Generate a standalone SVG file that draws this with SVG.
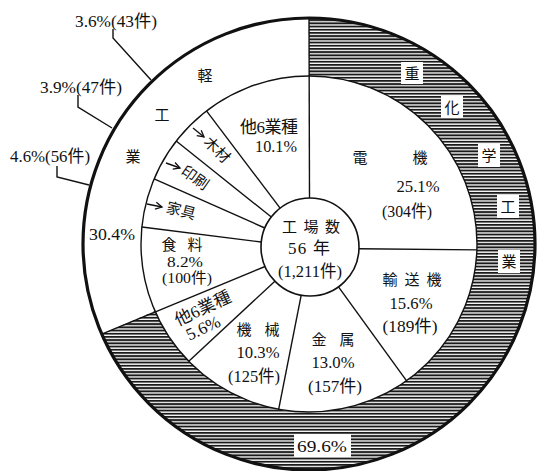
<svg xmlns="http://www.w3.org/2000/svg" width="537" height="471" viewBox="0 0 537 471">
<style>
.t{font-family:"Liberation Serif","Noto Sans CJK JP",serif;font-size:17px;fill:#111;text-anchor:middle}
.s{font-size:14.5px}
.k{font-family:"Noto Sans CJK JP",sans-serif;font-size:15px;fill:#111;text-anchor:middle}
.ln{fill:none;stroke:#111;stroke-width:1.4}
.bx{fill:#fff}
</style>
<defs>
<pattern id="h" patternUnits="userSpaceOnUse" width="8" height="3.2"><rect width="8" height="3.2" fill="#fff"/><rect width="8" height="1.9" fill="#1a1a1a"/></pattern>
<marker id="a" markerUnits="userSpaceOnUse" markerWidth="10" markerHeight="10" refX="8" refY="5" orient="auto"><path d="M1.5,1.5 L8,5 L1.5,8.5" fill="none" stroke="#111" stroke-width="1.3"/></marker>
</defs>
<rect width="537" height="471" fill="#fff"/>
<g id="heavy-ring">
<path d="M309,18 A226,226 0 1 1 101.7,334.1 L154.9,311 A168,168 0 1 0 309,76 Z" fill="url(#h)"/>
<rect class="bx" x="401" y="62" width="22" height="22"/><text class="k" x="412" y="79">重</text>
<rect class="bx" x="441" y="96" width="22" height="22"/><text class="k" x="452" y="113">化</text>
<rect class="bx" x="478" y="144" width="22" height="23"/><text class="k" x="489" y="161">学</text>
<rect class="bx" x="497" y="195" width="22" height="23"/><text class="k" x="508" y="212">工</text>
<rect class="bx" x="498" y="250" width="22" height="23"/><text class="k" x="509" y="267">業</text>
<rect class="bx" x="294" y="434" width="57" height="23"/><text class="t" x="322" y="452" textLength="50" lengthAdjust="spacingAndGlyphs">69.6%</text>
</g>
<g id="light-ring">
<text class="k" x="205" y="81">軽</text>
<text class="k" x="162" y="120">工</text>
<text class="k" x="133" y="162">業</text>
<text class="t" x="112" y="240" textLength="46" lengthAdjust="spacingAndGlyphs">30.4%</text>
</g>
<g id="rings">
<circle cx="309" cy="244" r="168" class="ln"/>
<circle cx="309" cy="244" r="226" fill="none" stroke="#111" stroke-width="3.2"/>
<line x1="309" y1="18" x2="309.5" y2="198" class="ln"/>
<line x1="101.7" y1="334.1" x2="265.1" y2="266.5" class="ln"/>
</g>
<g id="spokes">
<line x1="359" y1="248.7" x2="476.9" y2="249.9" class="ln"/>
<line x1="338.5" y1="286.9" x2="406.6" y2="380.8" class="ln"/>
<line x1="301.2" y1="295.2" x2="278.7" y2="409.2" class="ln"/>
<line x1="274.9" y1="281.2" x2="188.8" y2="361.3" class="ln"/>
<line x1="261.3" y1="242" x2="141.9" y2="227" class="ln"/>
<line x1="264.8" y1="228" x2="154.1" y2="178.9" class="ln"/>
<line x1="271.3" y1="217" x2="176.2" y2="141" class="ln"/>
<line x1="280.1" y1="208.2" x2="206.5" y2="110.9" class="ln"/>
</g>
<g id="center">
<circle cx="310" cy="247" r="49" fill="#fff" stroke="#111" stroke-width="1.6"/>
<text class="k" x="311" y="232" textLength="58" lengthAdjust="spacing">工場数</text>
<text class="t" x="309" y="254" textLength="42" lengthAdjust="spacing">56 年</text>
<text class="t" x="310" y="277" textLength="64" lengthAdjust="spacingAndGlyphs">(1,211件)</text>
</g>
<g id="denki">
<text class="k" x="360" y="163">電</text>
<text class="k" x="420" y="163">機</text>
<text class="t" x="418" y="192" textLength="43" lengthAdjust="spacingAndGlyphs">25.1%</text>
<text class="t" x="407" y="217" textLength="50" lengthAdjust="spacingAndGlyphs">(304件)</text>
</g>
<g id="yusouki">
<text class="k" x="412" y="285" textLength="59" lengthAdjust="spacing">輸送機</text>
<text class="t" x="411" y="309" textLength="43" lengthAdjust="spacingAndGlyphs">15.6%</text>
<text class="t" x="410" y="332" textLength="55" lengthAdjust="spacingAndGlyphs">(189件)</text>
</g>
<g id="kinzoku">
<text class="k" x="333" y="345" textLength="43" lengthAdjust="spacing">金属</text>
<text class="t" x="333" y="368" textLength="43" lengthAdjust="spacingAndGlyphs">13.0%</text>
<text class="t" x="335" y="392" textLength="54" lengthAdjust="spacingAndGlyphs">(157件)</text>
</g>
<g id="kikai">
<text class="k" x="258" y="335" textLength="43" lengthAdjust="spacing">機械</text>
<text class="t" x="258" y="358" textLength="43" lengthAdjust="spacingAndGlyphs">10.3%</text>
<text class="t" x="254" y="382" textLength="52" lengthAdjust="spacingAndGlyphs">(125件)</text>
</g>
<g id="heavy-other" transform="rotate(-25 205 318)">
<text class="t" x="207" y="314" textLength="60" lengthAdjust="spacing">他6業種</text>
<text class="t" x="199" y="332" textLength="36" lengthAdjust="spacingAndGlyphs">5.6%</text>
</g>
<g id="shokuryo">
<text class="k" x="182" y="250" textLength="41" lengthAdjust="spacing">食料</text>
<text class="t s" x="185" y="267" textLength="36" lengthAdjust="spacingAndGlyphs">8.2%</text>
<text class="t s" x="187" y="283" textLength="50" lengthAdjust="spacingAndGlyphs">(100件)</text>
</g>
<g id="kagu"><text class="k" x="181" y="216" transform="rotate(15 181 211)">家具</text></g>
<g id="insatsu"><text class="k" x="195" y="183" transform="rotate(35 195 178)">印刷</text></g>
<g id="mokuzai"><text class="k" x="217" y="155" transform="rotate(45 217 150)">木材</text></g>
<g id="light-other">
<text class="t" x="269" y="133" textLength="58" lengthAdjust="spacing">他6業種</text>
<text class="t" x="276" y="152" textLength="42" lengthAdjust="spacingAndGlyphs">10.1%</text>
</g>
<g id="callouts">
<text class="t" x="116" y="27" textLength="82" lengthAdjust="spacingAndGlyphs">3.6%(43件)</text>
<text class="t" x="81" y="93" textLength="82" lengthAdjust="spacingAndGlyphs">3.9%(47件)</text>
<text class="t" x="50" y="162" textLength="80" lengthAdjust="spacingAndGlyphs">4.6%(56件)</text>
</g>
<g id="connectors">
<polyline class="ln" points="113,29 113,38 151,80"/>
<polyline class="ln" points="78,95 78,107 112,128"/>
<polyline class="ln" points="57,166 57,177 89,185"/>
<line class="ln" x1="193" y1="128" x2="204" y2="137" marker-end="url(#a)"/>
<line class="ln" x1="166" y1="163" x2="180" y2="168" marker-end="url(#a)"/>
<line class="ln" x1="147" y1="204" x2="162" y2="207" marker-end="url(#a)"/>
</g>
</svg>
